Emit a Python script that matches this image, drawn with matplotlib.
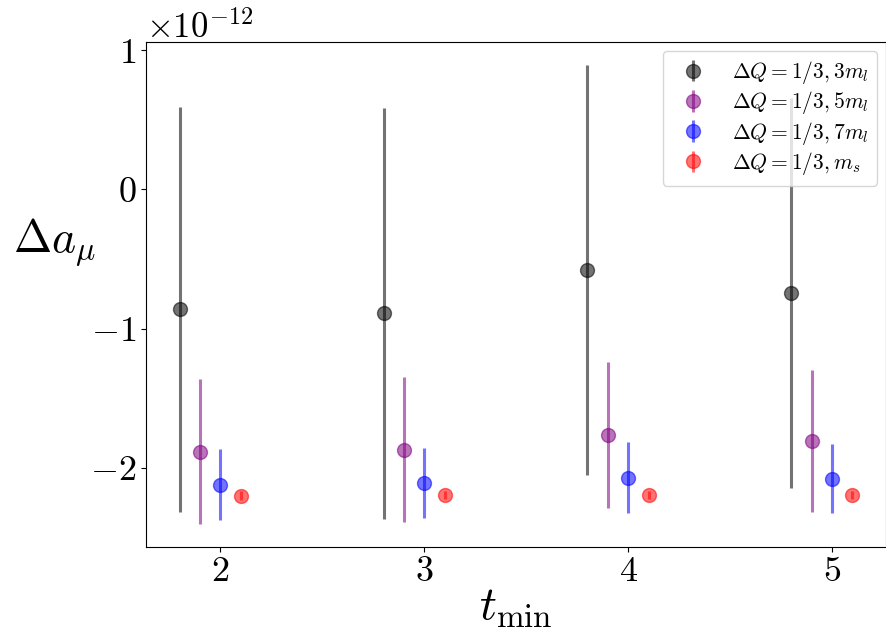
import numpy as np
import matplotlib
matplotlib.use("Agg")
import matplotlib.pyplot as plt

plt.rcParams['mathtext.fontset'] = 'cm'
plt.rcParams['font.family'] = 'serif'
plt.rcParams['font.serif'] = ['cmr10', 'DejaVu Serif']
plt.rcParams['axes.formatter.use_mathtext'] = True
plt.rcParams['axes.unicode_minus'] = True

t_min = np.array([2, 3, 4, 5])
offsets = [-0.2, -0.1, 0.0, 0.1]
labels = [r'$\Delta Q = 1/3, 3m_l$', r'$\Delta Q = 1/3, 5m_l$',
          r'$\Delta Q = 1/3, 7m_l$', r'$\Delta Q = 1/3, m_s$']
colors = ['black', 'purple', 'blue', 'red']

# values in units of 1e-12
da_3ml = [-0.86, -0.89, -0.58, -0.745]
err_3ml = [1.455, 1.475, 1.475, 1.40]
da_5ml = [-1.884, -1.87, -1.767, -1.805]
err_5ml = [0.52, 0.52, 0.524, 0.51]
da_7ml = [-2.12, -2.11, -2.07, -2.077]
err_7ml = [0.254, 0.252, 0.255, 0.25]
da_ms = [-2.2, -2.195, -2.197, -2.197]
err_ms = [0.03, 0.03, 0.03, 0.03]

values = [da_3ml, da_5ml, da_7ml, da_ms]
errors = [err_3ml, err_5ml, err_7ml, err_ms]

fig, ax = plt.subplots(figsize=(8.87, 6.44), dpi=100)
fig.subplots_adjust(left=0.1646, right=0.9989, top=0.9348, bottom=0.1506)

for off, val, err, c, lab in zip(offsets, values, errors, colors, labels):
    ax.errorbar(t_min + off, np.array(val) * 1e-12, yerr=np.array(err) * 1e-12,
                fmt='o', color=c, alpha=0.55, markersize=10, elinewidth=2.2,
                label=lab)

ax.set_xticks([2, 3, 4, 5])
ax.set_yticks([-2e-12, -1e-12, 0, 1e-12])
ax.tick_params(labelsize=26)
ax.yaxis.get_offset_text().set_fontsize(25)
ax.set_xlabel(r'$t_{\mathrm{min}}$', fontsize=34, labelpad=0)
ax.set_ylabel(r'$\Delta a_\mu$', fontsize=33, rotation=0)
ax.yaxis.set_label_coords(-0.124, 0.55)
ax.legend(loc='upper right', fontsize=15.5, labelspacing=0.15, borderaxespad=0.4)

plt.savefig('out.png', dpi=100)
